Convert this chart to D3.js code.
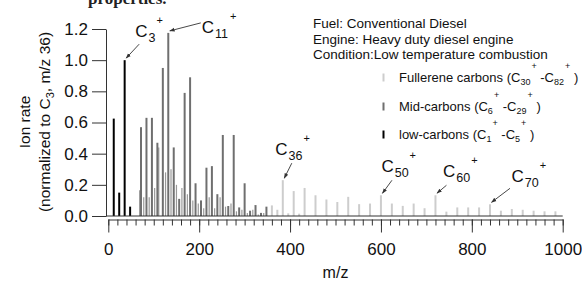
<!DOCTYPE html>
<html><head><meta charset="utf-8">
<script src="https://cdn.jsdelivr.net/npm/d3@7/dist/d3.min.js"></script>
<style>
html,body{margin:0;padding:0;background:#fff;}
svg{display:block;font-family:Arial,"Liberation Sans",Helvetica,sans-serif;}
</style></head>
<body>
<svg id="chart" width="582" height="282"></svg>
<script>
// ---------------- data ----------------
const lowMz  = [12, 24, 36, 48];
const lowVal = [0.625, 0.15, 1.0, 0.06];

const midMz  = [72, 84, 96, 108, 120, 132, 144, 156, 168, 180, 192, 204, 216, 228, 240, 252, 264, 276, 288, 300, 312, 324, 336, 348];
const midVal = [0.57, 0.63, 0.63, 0.47, 0.95, 1.175, 0.44, 0.11, 0.79, 0.89, 0.21, 0.10, 0.31, 0.32, 0.14, 0.52, 0.064, 0.52, 0.055, 0.21, 0.034, 0.07, 0.02, 0.06];

const midMinorMz  = [69, 78, 90, 102, 111, 126, 138, 150, 162, 174, 186, 198, 210, 222, 234, 246, 258, 270, 282, 294, 306, 318, 330, 342];
const midMinorVal = [0.165, 0.12, 0.12, 0.18, 0.44, 0.28, 0.30, 0.20, 0.18, 0.14, 0.10, 0.08, 0.05, 0.12, 0.05, 0.12, 0.06, 0.08, 0.03, 0.04, 0.02, 0.04, 0.01, 0.02];

const fullMz  = [360, 372, 384, 396, 408, 420, 432, 456, 480, 504, 528, 552, 576, 600, 624, 648, 672, 696, 720, 744, 768, 792, 816, 840, 864, 888, 912, 936, 960, 984];
const fullVal = [0.068, 0.04, 0.23, 0.017, 0.16, 0.015, 0.18, 0.133, 0.106, 0.09, 0.123, 0.076, 0.08, 0.133, 0.08, 0.065, 0.08, 0.05, 0.133, 0.028, 0.055, 0.055, 0.055, 0.075, 0.034, 0.045, 0.04, 0.034, 0.03, 0.03];

const yTicks = [0, 0.2, 0.4, 0.6, 0.8, 1.0, 1.2];
const xTicks = [0, 200, 400, 600, 800, 1000];

const peakNames = ["3", "11", "36", "50", "60", "70"];
const peakMz    = [36, 132, 384, 600, 720, 840];

const infoLines = ["Fuel: Conventional Diesel", "Engine: Heavy duty diesel engine", "Condition:Low temperature combustion"];
const legendNames = ["Fullerene carbons", "Mid-carbons", "low-carbons"];
const legendFrom  = ["30", "6", "1"];
const legendTo    = ["82", "29", "5"];

// ---------------- layout / style ----------------
const colLow = "#000000", colMid = "#6f6f6f", colMinor = "#999999", colFull = "#cdcdcd", axisCol = "#333";
const svg = d3.select("#chart");
const x = d3.scaleLinear().domain([0, 1000]).range([108.3, 562.7]);
const y = d3.scaleLinear().domain([0, 1.2]).range([216, 29]);

// partial document text at top edge
svg.append("text").attr("x", 88).attr("y", 3.5)
  .attr("font-family", "'Liberation Serif','Times New Roman',serif")
  .attr("font-size", 17).attr("font-weight", "bold").attr("fill", "#222").text("properties.");

// bars
function bars(mz, val, color, w) {
  svg.append("g").attr("class", "bars").selectAll("line").data(mz.map((m, i) => [m, val[i]])).join("line")
    .attr("x1", d => x(d[0])).attr("x2", d => x(d[0]))
    .attr("y1", y(0)).attr("y2", d => y(d[1]))
    .attr("stroke", color).attr("stroke-width", w);
}
bars(fullMz, fullVal, colFull, 2);
bars(midMinorMz, midMinorVal, colMinor, 1.2);
bars(midMz, midVal, colMid, 2);
bars(lowMz, lowVal, colLow, 2);

// zero baseline
svg.append("line").attr("x1", 106).attr("x2", x(1000)).attr("y1", y(0)).attr("y2", y(0))
  .attr("stroke", axisCol).attr("stroke-width", 1);

// y axis
svg.append("g").attr("class", "axis").attr("transform", "translate(106,0)")
  .call(d3.axisLeft(y).tickValues(yTicks).tickFormat(d3.format(".1f")).tickSize(14).tickSizeOuter(0).tickPadding(4));

// x axis
const xAxisY = 219.5;
svg.append("g").attr("class", "axis").attr("transform", `translate(0,${xAxisY})`)
  .call(d3.axisBottom(x).tickValues(d3.range(0, 1001, 20)).tickSize(6).tickSizeOuter(0).tickFormat(""));
const xMaj = svg.append("g").attr("class", "axis").attr("transform", `translate(0,${xAxisY})`)
  .call(d3.axisBottom(x).tickValues(xTicks).tickSize(13).tickSizeOuter(0).tickPadding(10).tickFormat(d3.format("d")));
xMaj.select("path").remove();
svg.selectAll(".axis line, .axis path").attr("stroke", axisCol);
svg.selectAll(".axis text").attr("font-size", 17).attr("fill", "#111").attr("font-family", "Arial,'Liberation Sans',sans-serif");

// axis titles
svg.append("text").attr("x", x(500)).attr("y", 278).attr("text-anchor", "middle")
  .attr("font-size", 16).attr("fill", "#111").text("m/z");
const yt = svg.append("g").attr("transform", "translate(0,122) rotate(-90)");
yt.append("text").attr("x", 0).attr("y", 30).attr("text-anchor", "middle").attr("font-size", 15.5).attr("fill", "#111").text("Ion rate");
const t2 = yt.append("text").attr("x", 0).attr("y", 50).attr("text-anchor", "middle").attr("font-size", 15.5).attr("fill", "#111");
t2.append("tspan").text("(normalized to C");
t2.append("tspan").attr("font-size", 11).attr("dy", 4).text("3");
t2.append("tspan").attr("dy", -4).text(", m/z 36)");

// peak labels with arrows (offsets relative to the bar top)
const labelOff  = [[9, -21], [32, 2], [-9, -23], [-1, -21], [6, -16.5], [20, -20.5]];
const arrowTail = [[13, -14], [31, -8], [7.5, -15], [9.5, -13], [9.5, -8], [18.5, -14]];
svg.append("defs").append("marker").attr("id", "ah").attr("viewBox", "0 0 10 10").attr("refX", 9).attr("refY", 5)
  .attr("markerWidth", 6).attr("markerHeight", 6).attr("orient", "auto")
  .append("path").attr("d", "M0,1.5 L10,5 L0,8.5 Z").attr("fill", axisCol);
function valueAt(m) {
  if (lowMz.includes(m)) return lowVal[lowMz.indexOf(m)];
  if (midMz.includes(m)) return midVal[midMz.indexOf(m)];
  return fullVal[fullMz.indexOf(m)];
}
peakNames.forEach((n, i) => {
  const m = peakMz[i];
  const tipX = x(m) + 1.5, tipY = y(valueAt(m)) - 2;
  svg.append("line")
    .attr("x1", tipX + arrowTail[i][0]).attr("y1", tipY + arrowTail[i][1])
    .attr("x2", tipX).attr("y2", tipY)
    .attr("stroke", axisCol).attr("stroke-width", 0.9).attr("marker-end", "url(#ah)");
  const bx = tipX + labelOff[i][0], by = tipY + labelOff[i][1];
  const t = svg.append("text").attr("x", bx).attr("y", by).attr("font-size", 17).attr("fill", "#111");
  t.append("tspan").text("C");
  t.append("tspan").attr("font-size", 12.5).attr("dy", 5).attr("dx", 1).text(n);
  const subW = n.length * 12.5 * 0.556;
  svg.append("text").attr("x", bx + 13.5 + subW + 4).attr("y", by - 13)
    .attr("text-anchor", "middle").attr("font-size", 11).attr("fill", "#111").text("+");
});

// info lines
svg.append("g").selectAll("text").data(infoLines).join("text")
  .attr("x", 313).attr("y", (d, i) => 28 + i * 15.5).attr("font-size", 13.5).attr("fill", "#111").text(d => d);

// legend
const legCols = [colFull, colMid, colLow];
const legBase = [82, 111, 139];
legendNames.forEach((name, i) => {
  svg.append("rect").attr("x", 382.5).attr("y", legBase[i] - 8.5).attr("width", 2).attr("height", 8).attr("fill", legCols[i]);
  const t = svg.append("text").attr("x", 399).attr("y", legBase[i]).attr("font-size", 13).attr("fill", "#111");
  t.append("tspan").text(name + " (C");
  t.append("tspan").attr("font-size", 9).attr("dy", 3).text(legendFrom[i]);
  t.append("tspan").attr("font-size", 9).attr("dy", -16.5).attr("dx", 1).text("+");
  t.append("tspan").attr("dy", 13.5).text(" -C");
  t.append("tspan").attr("font-size", 9).attr("dy", 3).text(legendTo[i]);
  t.append("tspan").attr("font-size", 9).attr("dy", -16.5).attr("dx", 1).text("+");
  t.append("tspan").attr("dy", 13.5).text(" )");
});
</script>
</body></html>
